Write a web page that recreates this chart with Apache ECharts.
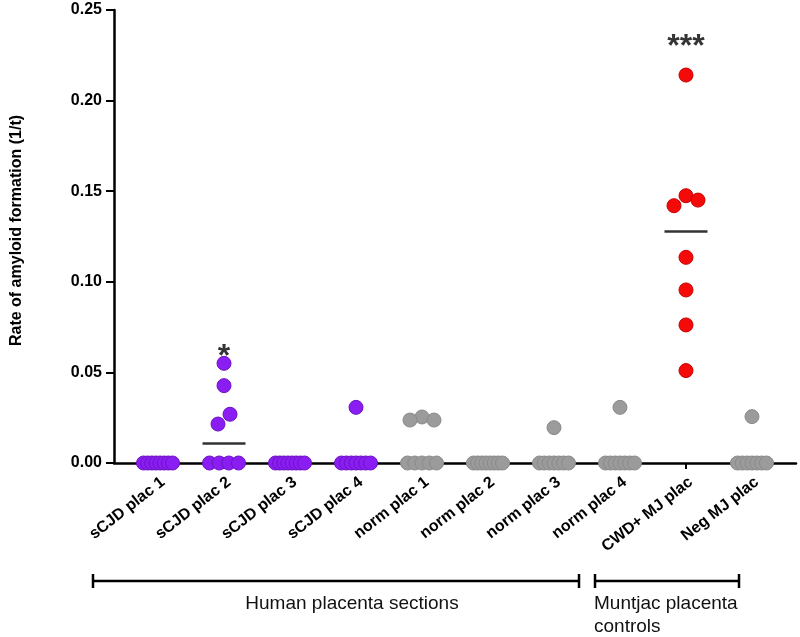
<!DOCTYPE html>
<html>
<head>
<meta charset="utf-8">
<script src="https://cdn.jsdelivr.net/npm/echarts@6/dist/echarts.min.js"></script>
<style>html,body{margin:0;padding:0;background:#fff;}#c{width:800px;height:637px;}</style>
</head>
<body>
<div id="c"></div>
<script>
// ---- data ----
const categories = ['sCJD plac 1','sCJD plac 2','sCJD plac 3','sCJD plac 4','norm plac 1','norm plac 2','norm plac 3','norm plac 4','CWD+ MJ plac','Neg MJ plac'];
const sCJD1 = [0,0,0,0,0,0,0,0];
const sCJD2 = [0.055,0.0427,0.0269,0.0215,0,0,0,0];
const sCJD3 = [0,0,0,0,0,0,0,0];
const sCJD4 = [0.0307,0,0,0,0,0,0,0];
const norm1 = [0.0254,0.0237,0.0237,0,0,0,0,0];
const norm2 = [0,0,0,0,0,0,0,0];
const norm3 = [0.0195,0,0,0,0,0,0,0];
const norm4 = [0.0307,0,0,0,0,0,0,0];
const cwdMJ = [0.2141,0.1475,0.1451,0.1420,0.1135,0.0955,0.0762,0.0510];
const negMJ = [0.0256,0,0,0,0,0,0,0];
const yTicks = [0,0.05,0.10,0.15,0.20,0.25];
const sigCats = [1, 8];
const sigValues = [0.0585, 0.2296];
const sigText = ['*', '***'];
const bracketLabels = ['Human placenta sections', 'Muntjac placenta\ncontrols'];

const groups = [sCJD1,sCJD2,sCJD3,sCJD4,norm1,norm2,norm3,norm4,cwdMJ,negMJ];
const PURPLE='#8A1EF2', GRAY='#9B9B9B', RED='#F50A0A';
const groupColors = [PURPLE,PURPLE,PURPLE,PURPLE,GRAY,GRAY,GRAY,GRAY,RED,GRAY];
const groupBorders = ['#6d12c4','#6d12c4','#6d12c4','#6d12c4','#8a8a8a','#8a8a8a','#8a8a8a','#8a8a8a','#c80000','#8a8a8a'];

const FONT = '"Liberation Sans", Arial, Helvetica, sans-serif';
const chart = echarts.init(document.getElementById('c'), null, {renderer:'canvas'});
const idxs = categories.map((c,i)=>i);

const base = {
  animation:false,
  backgroundColor:'#fff',
  grid:{left:114,right:4,top:10,bottom:174,containLabel:false},
  xAxis:{
    type:'value', min:-0.667, max:9.667,
    splitLine:{show:false},
    axisLine:{show:true,onZero:false,lineStyle:{color:'#000',width:2.5}},
    axisTick:{show:true,customValues:idxs,length:6,lineStyle:{color:'#000',width:2}},
    axisLabel:{show:true,customValues:idxs,rotate:38,margin:11,verticalAlign:'top',
      formatter:v=>categories[Math.round(v)]||'',
      color:'#000',fontFamily:FONT,fontWeight:'bold',fontSize:16}
  },
  yAxis:{
    type:'value', min:0, max:0.25, interval:0.05,
    name:'Rate of amyloid formation (1/t)', nameLocation:'middle', nameGap:89,
    nameTextStyle:{color:'#000',fontFamily:FONT,fontWeight:'bold',fontSize:16,padding:[0,0,0,12]},
    splitLine:{show:false},
    axisLine:{show:true,onZero:false,lineStyle:{color:'#000',width:2.5}},
    axisTick:{show:true,length:8,lineStyle:{color:'#000',width:2}},
    axisLabel:{margin:12,formatter:v=>v.toFixed(2),color:'#000',fontFamily:FONT,fontWeight:'bold',fontSize:16}
  },
  series:[]
};
chart.setOption(base);

const pxPerUnit = (chart.convertToPixel({yAxisIndex:0},0) - chart.convertToPixel({yAxisIndex:0},0.25))/0.25;

function swarm(values){
  const off = new Array(values.length).fill(0);
  const order = values.map((v,i)=>i).sort((a,b)=>values[b]-values[a]);
  const D = 14, W = 29, S = 12;
  const clusters=[]; let cur=[order[0]];
  for(let k=1;k<order.length;k++){
    if((values[order[k-1]]-values[order[k]])*pxPerUnit < D) cur.push(order[k]);
    else {clusters.push(cur); cur=[order[k]];}
  }
  clusters.push(cur);
  clusters.forEach(cl=>{
    const n=cl.length; if(n<2) return;
    const allEq = cl.every(i=>values[i]===values[cl[0]]);
    if(allEq){ cl.forEach((i,j)=>{off[i] = -W/2 + j*W/(n-1);}); return; }
    const slots=[];
    if(n%2===1){ slots.push(0); for(let k=1;slots.length<n;k++){slots.push(k);slots.push(-k);} }
    else { for(let k=0.5;slots.length<n;k++){slots.push(k);slots.push(-k);} }
    cl.forEach((i,j)=>{off[i]=slots[j]*S;});
  });
  return off;
}

function median(arr){
  const s=[...arr].sort((a,b)=>a-b); const n=s.length;
  return n%2? s[(n-1)/2] : (s[n/2-1]+s[n/2])/2;
}

const series = [];
series.push({
  type:'scatter', z:1, clip:false, symbol:'rect', symbolSize:[43,2.5],
  itemStyle:{color:'#000'}, silent:true,
  data: groups.map((g,i)=>[i, median(g)])
});
groups.forEach((g,i)=>{
  const off = swarm(g);
  series.push({
    type:'scatter', z:3, clip:false, symbol:'circle', symbolSize:14,
    itemStyle:{color:groupColors[i], borderColor:groupBorders[i], borderWidth:1, opacity:1},
    data: g.map((v,k)=>({value:[i,v], symbolOffset:[off[k],0]}))
  });
});
series.push({
  type:'scatter', z:4, clip:false, symbolSize:0, silent:true,
  itemStyle:{color:'rgba(0,0,0,0)'},
  data: sigCats.map((c,k)=>({value:[c,sigValues[k]], name:sigText[k]})),
  label:{show:true, position:'inside', formatter:p=>p.name, color:'#000',
    textBorderWidth:0, fontFamily:FONT, fontWeight:'bold', fontSize:32}
});

const capT=574, capB=588, by=581;
chart.setOption({
  series: series,
  graphic:[
    {type:'line',shape:{x1:93,y1:by,x2:579,y2:by},style:{stroke:'#000',lineWidth:2.5}},
    {type:'line',shape:{x1:93,y1:capT,x2:93,y2:capB},style:{stroke:'#000',lineWidth:2.5}},
    {type:'line',shape:{x1:579,y1:capT,x2:579,y2:capB},style:{stroke:'#000',lineWidth:2.5}},
    {type:'line',shape:{x1:595,y1:by,x2:739,y2:by},style:{stroke:'#000',lineWidth:2.5}},
    {type:'line',shape:{x1:595,y1:capT,x2:595,y2:capB},style:{stroke:'#000',lineWidth:2.5}},
    {type:'line',shape:{x1:739,y1:capT,x2:739,y2:capB},style:{stroke:'#000',lineWidth:2.5}},
    {type:'text',x:352,y:604,style:{text:bracketLabels[0],fill:'#111',font:'19px '+FONT,textAlign:'center',textVerticalAlign:'middle'}},
    {type:'text',x:594,y:592,style:{text:bracketLabels[1],fill:'#111',font:'19px '+FONT,textAlign:'left',textVerticalAlign:'top',lineHeight:23}}
  ]
});
</script>
</body>
</html>
